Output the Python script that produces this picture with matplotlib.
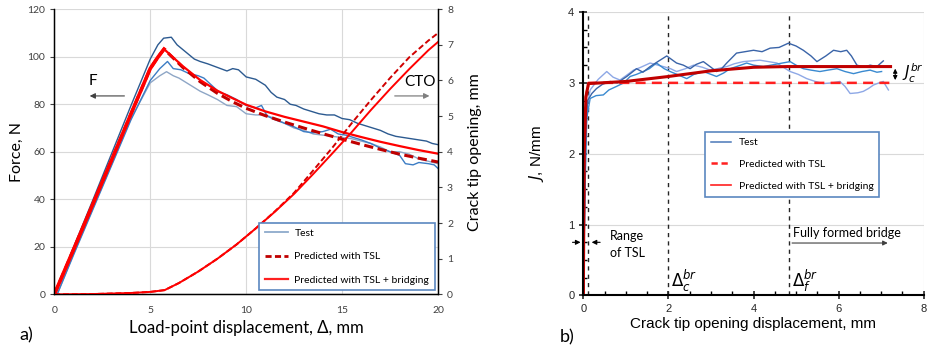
import matplotlib.pyplot as plt
from matplotlib.lines import Line2D
from matplotlib.ticker import MultipleLocator
import numpy as np

# ---- panel a) force vs load-point displacement
blue1_x = [0, 1, 2, 3, 4, 5, 5.4, 5.7, 6.1, 6.4, 6.7, 7.0, 7.3, 7.6, 8.0, 8.5, 9.0, 9.3, 9.6, 10.0,
           10.5, 11.0, 11.3, 11.6, 12.0, 12.3, 12.6, 13.0, 13.4, 13.8, 14.2, 14.6, 15.0, 15.4, 15.8,
           16.2, 16.6, 17.0, 17.4, 17.8, 18.2, 18.6, 19.0, 19.4, 19.7, 20.0]
blue1_y = [0, 19.8, 39.5, 59.5, 79.5, 99, 105, 107.8, 108.2, 105, 103, 101, 99, 98, 97, 95.5, 94, 95, 94.5, 91.5,
           90.5, 88, 85, 83, 82, 80, 79.5, 78, 77, 76, 75.5, 75.5, 74, 73.5, 72,
           71, 70, 69, 67.5, 66.5, 66, 65.5, 65, 64.5, 63.5, 63]

blue2_x = [0.15, 1, 2, 3, 4, 5, 5.5, 5.9, 6.2, 6.6, 7.0, 7.5, 7.8, 8.2, 8.6, 9.0, 9.5, 10.0, 10.5, 10.8,
           11.1, 11.5, 12.0, 12.5, 13.0, 13.5, 14.0, 14.4, 14.8, 15.2, 15.6, 16.0, 16.5, 17.0, 17.5,
           18.0, 18.3, 18.7, 19.0, 19.5, 19.8, 20.0]
blue2_y = [0, 16.5, 35.5, 54.5, 73.5, 90, 95, 98, 95, 94.5, 93, 92, 91, 88, 85, 84, 82, 79.5, 78.5, 79.5,
           75, 73.5, 72, 70.5, 68.5, 68, 68.5, 69.5, 67.5, 67, 66, 65, 63.5, 61.5, 60,
           58.5, 55, 54.5, 55.5, 55, 54.5, 53]

blue3_x = [0.15, 1, 2, 3, 4, 5, 5.5, 5.85, 6.2, 6.5, 6.9, 7.3, 7.6, 8.0, 8.5, 9.0, 9.5, 10.0, 10.5,
           11.0, 11.5, 12.0, 12.5, 13.0, 13.5, 14.0, 14.5, 15.0, 15.5, 16.0, 16.5, 17.0, 17.5, 18.0,
           18.5, 19.0, 19.5, 20.0]
blue3_y = [0, 17, 36, 55, 74, 89, 92, 93.7, 92, 91, 89, 87, 85.5, 84, 82, 79.5, 79, 76, 75.5,
           75.5, 74, 72, 70, 69, 67.5, 67, 66.5, 66, 65.5, 64.5, 63.5, 62, 60, 60,
           59, 57, 56, 55]

pred_x = [0, 1, 2, 3, 4, 5, 5.4, 5.72, 6.7, 7.6, 8.5, 9.3, 10, 11, 12, 13, 14, 15, 16, 17, 18, 19, 20]
tsl_F = [0, 18.8, 37.8, 56.8, 76, 95, 99.8, 103.2, 95.5, 89.5, 84.6, 81, 78.3, 75.2, 72.5, 70, 67.6,
         65.3, 63.1, 61, 59, 57.3, 55.7]
bridge_F = [0, 18.8, 37.8, 56.8, 76, 95, 99.8, 103.2, 96, 90.2, 85.7, 82.5, 79.8, 77, 74.7, 72.7, 70.7,
            68.3, 66.2, 64.2, 62.4, 60.7, 59.2]

cto_x = [0, 2, 4, 5, 5.75, 6.5, 7.5, 8.5, 9.5, 10.5, 11.5, 12.5, 13.5, 14.5, 15.5, 16.5, 17.5, 18.5, 19.5, 20]
tsl_cto = [0, 0.01, 0.04, 0.07, 0.12, 0.32, 0.64, 1.0, 1.4, 1.85, 2.33, 2.85, 3.48, 4.12, 4.8, 5.45,
           6.07, 6.65, 7.12, 7.33]
bridge_cto = [0, 0.01, 0.04, 0.07, 0.12, 0.32, 0.64, 1.0, 1.4, 1.85, 2.32, 2.82, 3.38, 3.96, 4.55, 5.17,
              5.76, 6.32, 6.85, 7.08]

# ---- panel b) J vs crack tip opening displacement
jb1_x = [0, 0.03, 0.06, 0.1, 0.2, 0.31, 0.45, 0.63, 0.8, 1.02, 1.25, 1.4, 1.57, 1.75, 1.96, 2.19, 2.35, 2.51,
         2.65, 2.82, 3.0, 3.13, 3.25, 3.37, 3.6, 3.8, 4.0, 4.2, 4.39, 4.6, 4.82, 5.0, 5.17, 5.35, 5.49,
         5.7, 5.88, 6.05, 6.19, 6.3, 6.43, 6.6, 6.74, 6.9, 7.05]
jb1_y = [0, 1.2, 2.3, 2.75, 2.85, 2.92, 2.98, 3.02, 3.0, 3.09, 3.2, 3.15, 3.23, 3.3, 3.38, 3.28, 3.25, 3.2,
         3.26, 3.3, 3.22, 3.16, 3.2, 3.28, 3.42, 3.44, 3.46, 3.44, 3.49, 3.5, 3.56, 3.52, 3.46, 3.38, 3.3,
         3.38, 3.46, 3.44, 3.46, 3.38, 3.25, 3.22, 3.25, 3.23, 3.31]

jb2_x = [0, 0.04, 0.08, 0.16, 0.3, 0.47, 0.6, 0.78, 0.95, 1.1, 1.25, 1.41, 1.55, 1.72, 1.9, 2.04, 2.2, 2.43,
         2.6, 2.82, 3.0, 3.13, 3.3, 3.45, 3.65, 3.84, 4.0, 4.23, 4.5, 4.86, 5.0, 5.17, 5.35, 5.56, 5.75,
         5.96, 6.15, 6.35, 6.55, 6.74, 6.9, 7.01]
jb2_y = [0, 1.5, 2.5, 2.78, 2.82, 2.83, 2.9, 2.95, 3.0, 3.09, 3.12, 3.16, 3.2, 3.28, 3.2, 3.16, 3.12, 3.06,
         3.12, 3.16, 3.12, 3.09, 3.14, 3.2, 3.24, 3.28, 3.25, 3.23, 3.26, 3.3, 3.25, 3.2, 3.18, 3.16, 3.18,
         3.2, 3.16, 3.13, 3.16, 3.18, 3.15, 3.16]

jb3_x = [0, 0.03, 0.07, 0.16, 0.35, 0.55, 0.7, 0.86, 1.0, 1.18, 1.35, 1.57, 1.75, 1.88, 2.05, 2.19, 2.4,
         2.59, 2.8, 2.98, 3.15, 3.37, 3.55, 3.76, 3.95, 4.15, 4.35, 4.55, 4.7, 4.86, 5.05, 5.25, 5.45,
         5.64, 5.85, 6.03, 6.15, 6.27, 6.45, 6.58, 6.7, 6.82, 6.95, 7.05, 7.17]
jb3_y = [0, 1.8, 2.6, 2.9, 3.05, 3.16, 3.08, 3.04, 3.1, 3.18, 3.22, 3.28, 3.25, 3.23, 3.2, 3.16, 3.2,
         3.25, 3.22, 3.18, 3.2, 3.23, 3.27, 3.3, 3.31, 3.32, 3.3, 3.28, 3.22, 3.16, 3.12, 3.06, 3.02,
         2.99, 3.0, 3.02, 2.95, 2.85, 2.86, 2.88, 2.92, 2.97, 3.0, 3.02, 2.9]

tsl_dx = [0, 0.02, 0.06, 0.12, 7.3]
tsl_J = [0, 2.0, 2.8, 3.0, 3.0]
br_dx = [0, 0.02, 0.06, 0.12, 1.0, 2.0, 3.0, 4.0, 4.8, 7.22]
br_J = [0, 2.0, 2.8, 2.99, 3.02, 3.09, 3.17, 3.22, 3.23, 3.23]

delta_lines = [0.12, 2.0, 4.83]
legend_labels = ['Test', 'Predicted with TSL', 'Predicted with TSL + bridging']

plt.rcParams['font.family'] = ['Lato', 'DejaVu Sans']
fig = plt.figure(figsize=(9.28, 3.53), dpi=100)

# ================= a)
ax1 = fig.add_axes([0.0585, 0.166, 0.4135, 0.808])
ax1r = ax1.twinx()

ax1.plot(blue3_x, blue3_y, color='#8ea6c6', lw=1.0)
ax1.plot(blue2_x, blue2_y, color='#3b7cc4', lw=1.0)
ax1.plot(blue1_x, blue1_y, color='#2c5a90', lw=1.0)
ax1.plot(pred_x, tsl_F, color='#c00000', lw=2.2, ls=(0, (3, 1.5)))
ax1.plot(pred_x, bridge_F, color='#ff0000', lw=1.6)
ax1.plot(pred_x[:8], bridge_F[:8], color='#ff0000', lw=2.6)

ax1r.plot(cto_x, tsl_cto, color='#d00000', lw=1.4, ls=(0, (3, 1.5)))
ax1r.plot(cto_x, bridge_cto, color='#ff0000', lw=1.4)

ax1.set_xlim(0, 20)
ax1.set_ylim(0, 120)
ax1r.set_ylim(0, 8)
ax1.set_xticks([0, 5, 10, 15, 20])
ax1.set_yticks(range(0, 121, 20))
ax1r.set_yticks(range(0, 9))
ax1.grid(True, color='#d9d9d9', lw=0.8)
ax1.set_axisbelow(True)
for a in (ax1, ax1r):
    a.spines['top'].set_visible(False)
    a.tick_params(labelsize=7.5, colors='#404040', length=3, width=0.8)
ax1.tick_params(axis='x', length=0, pad=8)
ax1.spines['left'].set_linewidth(1.0)
ax1r.spines['right'].set_linewidth(1.0)
ax1.spines['bottom'].set_linewidth(1.0)

ax1.set_ylabel('Force, N', fontsize=11.5)
ax1.yaxis.set_label_coords(-0.078, 0.5)
ax1r.set_ylabel('Crack tip opening, mm', fontsize=11.5)
ax1r.yaxis.set_label_coords(1.078, 0.5)
ax1.set_xlabel('Load-point displacement, Δ, mm', fontsize=12)
ax1.xaxis.set_label_coords(0.5, -0.088)

ax1.annotate('', xy=(1.7, 83.5), xytext=(3.8, 83.5),
             arrowprops=dict(arrowstyle='-|>', color='#404040', lw=0.8, mutation_scale=8))
ax1.text(2.0, 87, 'F', fontsize=11, ha='center', va='bottom')
ax1.annotate('', xy=(19.7, 83.5), xytext=(17.6, 83.5),
             arrowprops=dict(arrowstyle='-|>', color='#7f7f7f', lw=0.9, mutation_scale=8))
ax1.text(19.05, 86.5, 'CTO', fontsize=11, ha='center', va='bottom')

h1 = [Line2D([], [], color='#8eaacb', lw=1.3),
      Line2D([], [], color='#c00000', lw=2.0, ls=(0, (2.2, 1.2))),
      Line2D([], [], color='#ff2020', lw=1.6)]
leg1 = ax1r.legend(h1, legend_labels,
                   loc='lower right', bbox_to_anchor=(0.992, 0.014), fontsize=7.5,
                   fancybox=False, framealpha=1, labelspacing=1.35, handlelength=2.2,
                   borderpad=0.55, handletextpad=0.6, borderaxespad=0)
leg1.get_frame().set_edgecolor('#5b87c0')
leg1.get_frame().set_linewidth(1.2)

fig.text(0.028, 0.05, 'a)', fontsize=13, ha='center', va='center')

# ================= b)
ax2 = fig.add_axes([0.6286, 0.163, 0.3668, 0.803])
for xv in delta_lines:
    ax2.axvline(xv, color='#262626', lw=1.0, ls=(0, (3, 3)))
ax2.axvline(8, color='#d9d9d9', lw=0.8)

ax2.plot(jb3_x, jb3_y, color='#8ea8e6', lw=1.0)
ax2.plot(jb2_x, jb2_y, color='#3a8ad0', lw=1.0)
ax2.plot(jb1_x, jb1_y, color='#3a64a8', lw=1.0)
ax2.plot(tsl_dx, tsl_J, color='#ff2020', lw=1.8, ls=(0, (4, 2.5)))
ax2.plot(br_dx, br_J, color='#c00000', lw=2.2)

ax2.set_xlim(0, 8)
ax2.set_ylim(0, 4)
ax2.set_xticks(range(0, 9, 2))
ax2.set_yticks(range(0, 5))
ax2.xaxis.set_minor_locator(MultipleLocator(0.5))
ax2.yaxis.set_minor_locator(MultipleLocator(0.25))
ax2.grid(True, axis='y', color='#d9d9d9', lw=0.8)
ax2.set_axisbelow(True)
for s in ('top', 'right'):
    ax2.spines[s].set_visible(False)
ax2.spines['left'].set_linewidth(1.5)
ax2.spines['bottom'].set_linewidth(1.5)
ax2.tick_params(which='major', direction='inout', length=6, width=1.2,
                labelsize=8, colors='#262626')
ax2.tick_params(which='minor', direction='in', length=3, width=1.0)
for lbl in ax2.get_xticklabels() + ax2.get_yticklabels():
    lbl.set_family(['Liberation Sans'])

ax2.set_ylabel(r'$J$, N/mm', fontsize=11, family=['Liberation Sans'])
ax2.yaxis.set_label_coords(-0.11, 0.5)
ax2.set_xlabel('Crack tip opening displacement, mm', fontsize=11, family=['Liberation Sans'])
ax2.xaxis.set_label_coords(0.4985, -0.075)

ax2.annotate('', xy=(0.0, 0.75), xytext=(-0.32, 0.75), annotation_clip=False,
             arrowprops=dict(arrowstyle='-|>', color='black', lw=0.8, mutation_scale=7))
ax2.annotate('', xy=(0.13, 0.75), xytext=(0.46, 0.75),
             arrowprops=dict(arrowstyle='-|>', color='black', lw=0.8, mutation_scale=7))
ax2.text(0.62, 0.72, 'Range\nof TSL', fontsize=9, ha='left', va='center', linespacing=1.45)
ax2.text(4.92, 0.8, 'Fully formed bridge', fontsize=9, ha='left', va='bottom')
ax2.annotate('', xy=(7.22, 0.74), xytext=(4.84, 0.74),
             arrowprops=dict(arrowstyle='-|>', color='#404040', lw=0.8, mutation_scale=7))
ax2.text(2.06, 0.2, r'$\Delta_c^{br}$', fontsize=12, ha='left', va='center')
ax2.text(4.9, 0.2, r'$\Delta_f^{br}$', fontsize=12, ha='left', va='center')
ax2.annotate('', xy=(7.33, 3.0), xytext=(7.33, 3.24),
             arrowprops=dict(arrowstyle='<|-|>', color='black', lw=0.8, mutation_scale=6))
ax2.text(7.5, 3.13, r'$J_c^{br}$', fontsize=11, ha='left', va='center')

h2 = [Line2D([], [], color='#4a78b8', lw=1.1),
      Line2D([], [], color='#ff2020', lw=1.8, ls=(0, (2.5, 1.5))),
      Line2D([], [], color='#ff2020', lw=1.2)]
leg2 = ax2.legend(h2, legend_labels,
                  loc='upper left', bbox_to_anchor=(0.357, 0.576), fontsize=7.5,
                  fancybox=False, framealpha=1, labelspacing=1.2, handlelength=2.0,
                  borderpad=0.55, handletextpad=0.7, borderaxespad=0)
leg2.get_frame().set_edgecolor('#5b87c0')
leg2.get_frame().set_linewidth(1.2)

fig.text(0.611, 0.045, 'b)', fontsize=13, ha='center', va='center')

plt.savefig('out.png', dpi=100)
